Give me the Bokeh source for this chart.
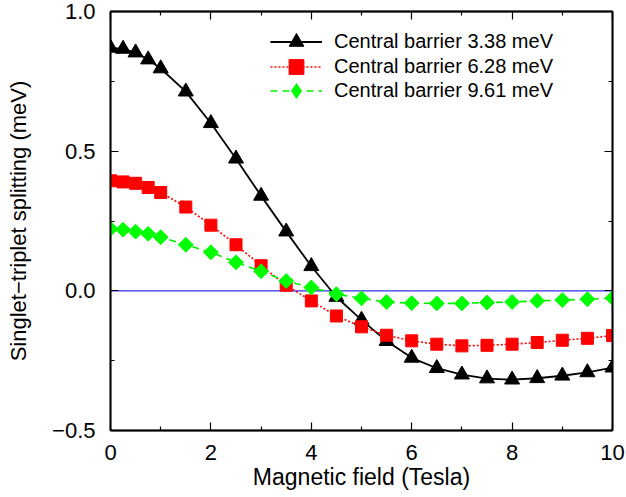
from bokeh.plotting import figure
from bokeh.models import (LinearAxis, FixedTicker, Span, Legend, LegendItem, ColumnDataSource)
from bokeh.embed import file_html
from bokeh.resources import INLINE
import math

# ---- data ----
field = [0, 0.25, 0.5, 0.75, 1, 1.5, 2, 2.5, 3, 3.5, 4, 4.5, 5, 5.5, 6, 6.5, 7, 7.5, 8, 8.5, 9, 9.5, 10]
barrier_338 = [0.870, 0.866, 0.853, 0.828, 0.796, 0.713, 0.600, 0.473, 0.340, 0.212, 0.088, -0.022,
               -0.104, -0.180, -0.240, -0.277, -0.300, -0.314, -0.318, -0.313, -0.304, -0.292, -0.275]
barrier_628 = [0.394, 0.390, 0.385, 0.370, 0.352, 0.300, 0.235, 0.165, 0.090, 0.020, -0.036, -0.090,
               -0.129, -0.159, -0.179, -0.191, -0.197, -0.195, -0.191, -0.185, -0.177, -0.170, -0.160]
barrier_961 = [0.222, 0.219, 0.212, 0.204, 0.192, 0.165, 0.138, 0.102, 0.070, 0.035, 0.012, -0.012,
               -0.027, -0.040, -0.044, -0.045, -0.045, -0.042, -0.040, -0.036, -0.033, -0.030, -0.026]
labels = ["Central barrier 3.38 meV", "Central barrier 6.28 meV", "Central barrier 9.61 meV"]
x_ticks = [0, 2, 4, 6, 8, 10]
x_minor = [1, 3, 5, 7, 9]
y_ticks = [-0.5, 0.0, 0.5, 1.0]
y_minor = [-0.25, 0.25, 0.75]
y_tick_labels = {-0.5: "\u22120.5", 0.0: "0.0", 0.5: "0.5", 1.0: "1.0"}
x_title = "Magnetic field (Tesla)"
y_title = "Singlet\u2212triplet splitting (meV)"

FONT = "Liberation Sans"

p = figure(width=626, height=497, x_range=(0, 10), y_range=(-0.5, 1.0),
           output_backend="svg", toolbar_location=None,
           min_border_left=110, min_border_right=14, min_border_top=11, min_border_bottom=67,
           x_axis_label=x_title, y_axis_label=y_title)
p.grid.grid_line_color = None
p.outline_line_color = "black"
p.outline_line_width = 1.5
p.background_fill_color = "white"
p.border_fill_color = "white"

def style_axis(ax, ticks, minor, show_labels, overrides=None):
    ax.ticker = FixedTicker(ticks=ticks, minor_ticks=minor)
    ax.axis_line_color = "black"
    ax.axis_line_width = 1.8
    ax.major_tick_in = 8
    ax.major_tick_out = 0
    ax.minor_tick_in = 4
    ax.minor_tick_out = 0
    ax.major_tick_line_color = "black"
    ax.minor_tick_line_color = "black"
    ax.major_tick_line_width = 1.2
    ax.minor_tick_line_width = 1.2
    ax.major_label_text_font = FONT
    ax.major_label_text_font_size = "22px"
    ax.major_label_text_color = "black"
    if show_labels:
        if overrides:
            ax.major_label_overrides = overrides
    else:
        ax.major_label_overrides = {t: "" for t in ticks}
        ax.major_label_standoff = 0

xa = p.xaxis[0]
ya = p.yaxis[0]
style_axis(xa, x_ticks, x_minor, True, {t: str(t) for t in x_ticks})
style_axis(ya, y_ticks, y_minor, True, y_tick_labels)
xa.major_label_standoff = 14
ya.major_label_standoff = 15
for ax in (xa, ya):
    ax.axis_label_text_font = FONT
    ax.axis_label_text_font_style = "normal"
    ax.axis_label_text_color = "black"
xa.axis_label_text_font_size = "23px"
ya.axis_label_text_font_size = "22px"
xa.axis_label_standoff = 1
ya.axis_label_standoff = 18

top = LinearAxis()
right = LinearAxis()
style_axis(top, x_ticks, x_minor, False)
style_axis(right, y_ticks, y_minor, False)
p.add_layout(top, "above")
p.add_layout(right, "right")

p.add_layout(Span(location=0, dimension="width", line_color="#3030ee", line_width=1.2, level="underlay"))

src = ColumnDataSource(dict(x=field, a=barrier_338, b=barrier_628, c=barrier_961))

l1 = p.line("x", "a", source=src, line_color="black", line_width=1.8)
s1 = p.scatter("x", "a", source=src, marker="triangle", size=15, fill_color="black", line_color="black")
l2 = p.line("x", "b", source=src, line_color="#ff0000", line_width=1.6, line_dash="2 2")
s2 = p.scatter("x", "b", source=src, marker="square", size=12, fill_color="#ff0000", line_color="#ff0000")
l3 = p.line("x", "c", source=src, line_color="#00ee00", line_width=1.6, line_dash="7 5")
# small diamonds (fully covered by the rotated squares) give the legend its diamond key
s3_key = p.scatter("x", "c", source=src, marker="diamond", size=9, fill_color="#00ff00", line_color="#00ff00")
s3 = p.scatter("x", "c", source=src, marker="square", size=10.5, angle=math.pi / 4,
               fill_color="#00ff00", line_color="#00ff00")

rows = [(labels[0], [l1, s1], 41.7), (labels[1], [l2, s2], 66.0), (labels[2], [l3, s3_key], 90.5)]
frame_bottom_px = 430
GH = 37
for lab, rends, center_px in rows:
    lg = Legend(items=[LegendItem(label=lab, renderers=rends)],
                location=(160, frame_bottom_px - (center_px + GH / 2)))
    lg.border_line_alpha = 0
    lg.background_fill_alpha = 0
    lg.padding = 0
    lg.margin = 0
    lg.spacing = 0
    lg.glyph_width = 52
    lg.glyph_height = GH
    lg.label_height = 20
    lg.label_standoff = 12
    lg.label_text_font = FONT
    lg.label_text_font_size = "20px"
    lg.label_text_color = "black"
    p.add_layout(lg, "center")

open("out.html", "w").write(file_html(p, INLINE))
